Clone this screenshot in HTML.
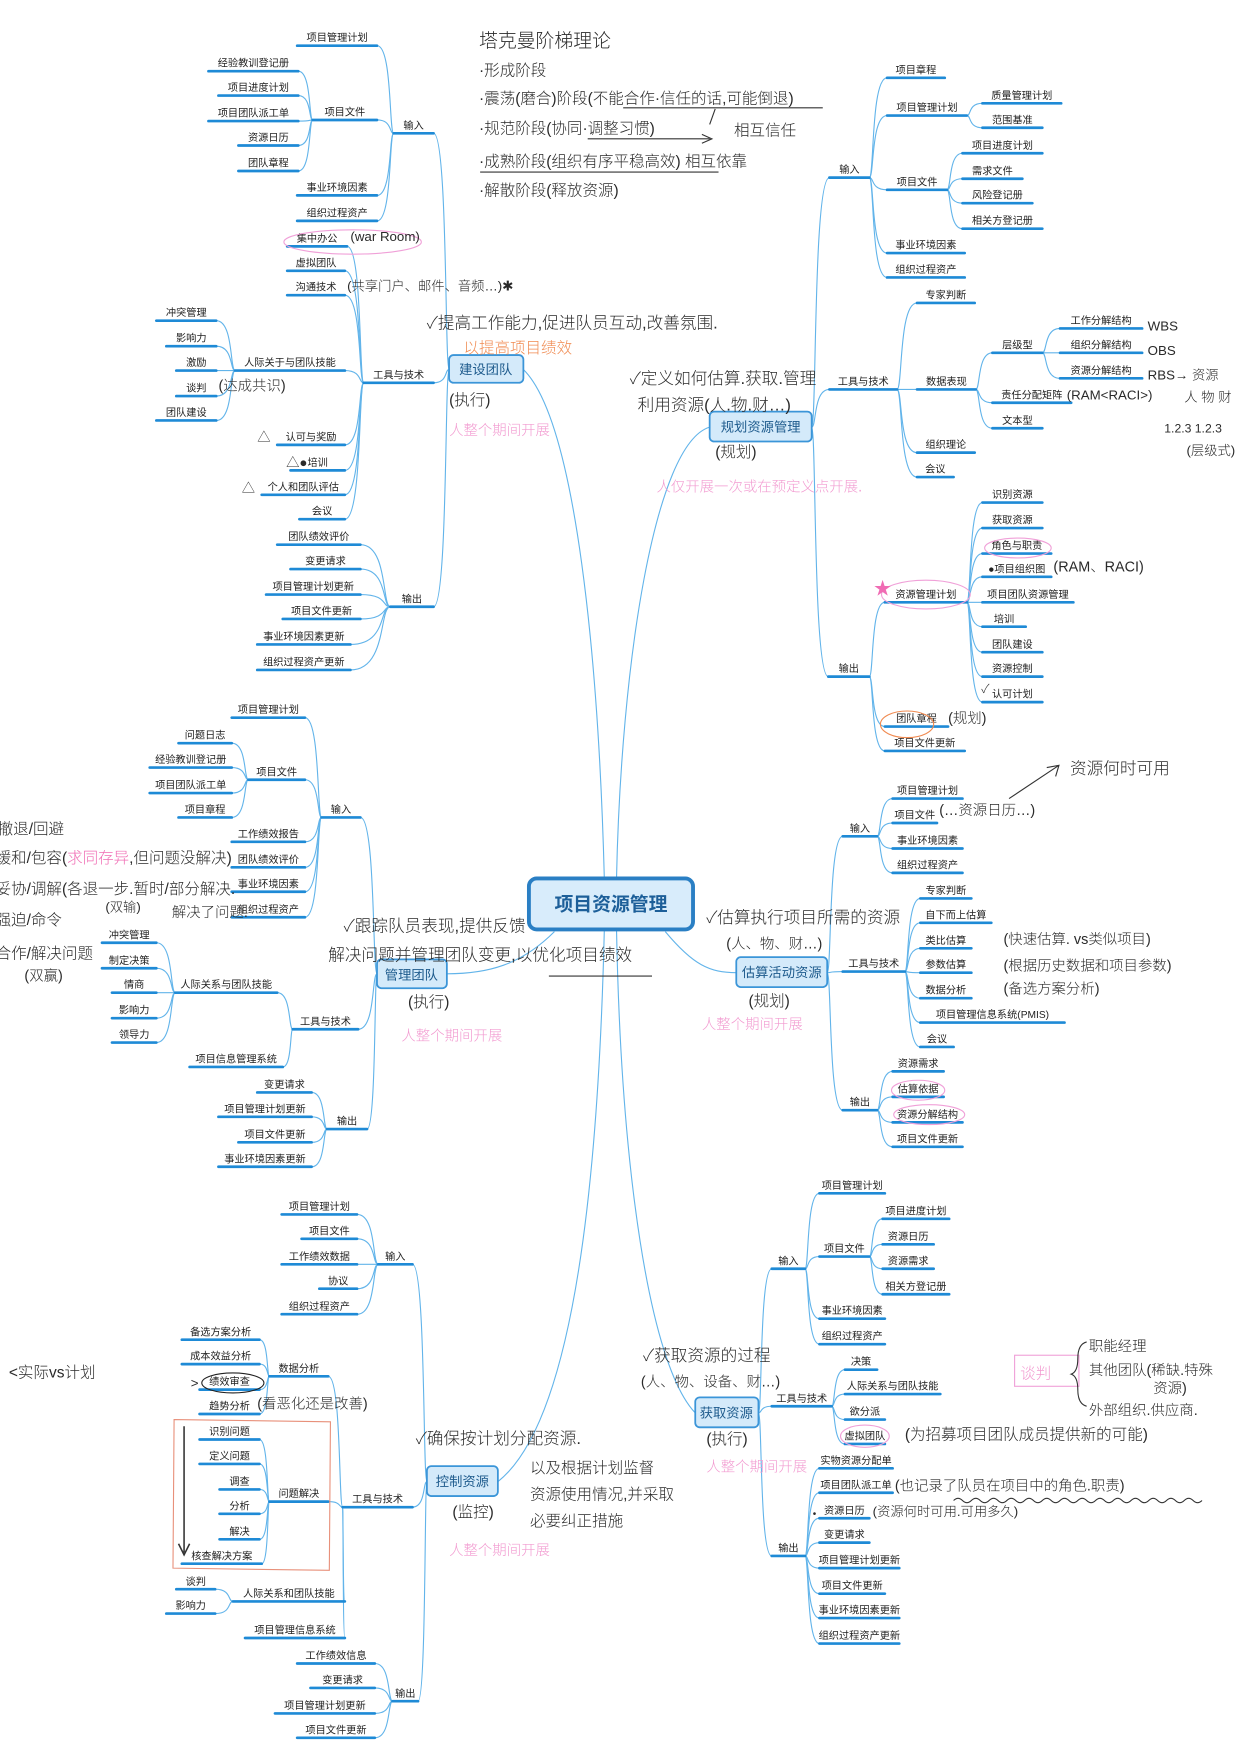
<!DOCTYPE html>
<html><head><meta charset="utf-8">
<style>
html,body{margin:0;padding:0;background:#fff;}
svg{display:block;}
text{font-family:"Liberation Sans","Noto Sans CJK SC",sans-serif;}
.n{font-size:9.2px;fill:#222;}
.hw{font-family:"Liberation Sans","Noto Sans CJK SC",sans-serif;font-size:14px;fill:#2a2a2a;font-weight:300;}
.pk{font-family:"Liberation Sans","Noto Sans CJK SC",sans-serif;font-size:13px;fill:#f29ad0;font-weight:300;}
</style></head>
<body>
<svg id="s" xmlns="http://www.w3.org/2000/svg" width="1253" height="1748" viewBox="0 0 1130 1576">
<rect x="0" y="0" width="1130" height="1576" fill="#fff"/>
<g id="conn" fill="none" stroke="#62b4ea" stroke-width="1"></g>
<g id="ul" stroke="#1e8ad6" stroke-width="2.4" stroke-linecap="round"></g>
<g id="tx"></g>
<g stroke="#3b95d8" stroke-width="1.6" fill="#d4eafa">
<rect x="405" y="320" width="67" height="25" rx="4"/>
<rect x="640" y="371" width="92" height="27" rx="4"/>
<rect x="340" y="865" width="63" height="26" rx="4"/>
<rect x="664" y="863" width="82" height="27" rx="4"/>
<rect x="385" y="1322" width="64" height="27" rx="4"/>
<rect x="627" y="1260" width="57" height="27" rx="4"/>
</g>
<g font-size="12" fill="#1d5a8c" text-anchor="middle">
<text x="438" y="337">建设团队</text>
<text x="686" y="389">规划资源管理</text>
<text x="371" y="883">管理团队</text>
<text x="705" y="881">估算活动资源</text>
<text x="417" y="1340">控制资源</text>
<text x="655" y="1278">获取资源</text>
</g>
<rect x="477" y="792" width="148" height="46" rx="7" fill="#d8ecfb" stroke="#2a7fc4" stroke-width="3.5"/>
<text x="551" y="821" text-anchor="middle" font-size="17" font-weight="bold" fill="#1d5f99">项目资源管理</text>

<g fill="none" stroke-width="1">
<ellipse cx="318" cy="218" rx="62" ry="11" stroke="#f0a0d8"/>
<ellipse cx="918" cy="494" rx="30" ry="9" stroke="#f0a0d8"/>
<ellipse cx="835" cy="536" rx="40" ry="13" stroke="#f0a0d8"/>
<ellipse cx="828" cy="983" rx="24" ry="9" stroke="#f0a0d8"/>
<ellipse cx="838" cy="1005" rx="32" ry="9" stroke="#f0a0d8"/>
<ellipse cx="780" cy="1295" rx="22" ry="10" stroke="#f0a0d8"/>
<ellipse cx="818" cy="653" rx="24" ry="12" stroke="#f08a50"/>
<ellipse cx="210" cy="1247" rx="28" ry="9" stroke="#222"/>
<rect x="915" y="1222" width="58" height="28" stroke="#f0a0d8"/>
<path d="M157,1280 L298,1282 L297,1416 L156,1414 Z" stroke="#e8907a"/>
<path d="M166,1286 L166,1400 M161,1392 L166,1402 L171,1392" stroke="#333" stroke-width="1.4"/>
<path d="M860,1353 q4,-4 8,0 q4,4 8,0 q4,-4 8,0 q4,4 8,0 q4,-4 8,0 q4,4 8,0 q4,-4 8,0 q4,4 8,0 q4,-4 8,0 q4,4 8,0 q4,-4 8,0 q4,4 8,0 q4,-4 8,0 q4,4 8,0 q4,-4 8,0 q4,4 8,0 q4,-4 8,0 q4,4 8,0 q4,-4 8,0 q4,4 8,0 q4,-4 8,0 q4,4 8,0 q4,-4 8,0 q4,4 8,0 q4,-4 8,0 q4,4 8,0 q4,-4 8,0 q4,4 8,0" stroke="#333"/>
<path d="M562,97 L742,97 M530,125 L640,125 M633,121 L642,125 L633,129 M645,98 L640,112 M433,155 L648,155 M495,880 L588,880 M910,720 L955,690 M944,692 L955,690 L952,700" stroke="#333"/>
<path d="M980,1210 q-8,2 -8,15 q0,12 -6,14 q6,2 6,14 q0,13 8,15" stroke="#333"/>
</g>
<text x="788" y="536" font-size="16" fill="#f06cb4">★</text>

<g class="hw">
<text x="432" y="42" font-size="17">塔克曼阶梯理论</text>
<text x="432" y="68">·形成阶段</text>
<text x="432" y="93">·震荡(磨合)阶段(不能合作·信任的话,可能倒退)</text>
<text x="432" y="120">·规范阶段(协同·调整习惯)</text>
<text x="662" y="122">相互信任</text>
<text x="432" y="150">·成熟阶段(组织有序平稳高效) 相互依靠</text>
<text x="432" y="176">·解散阶段(释放资源)</text>
<text x="313" y="262" font-size="12">(共享门户、邮件、音频…)✱</text>
<text x="316" y="217" font-size="12">(war Room)</text>
<text x="197" y="352" font-size="13">(达成共识)</text>
<text x="385" y="296" font-size="15">✓提高工作能力,促进队员互动,改善氛围.</text>
<text x="418" y="318" font-size="14" fill="#f08a50">以提高项目绩效</text>
<text x="405" y="365">(执行)</text>
<text x="232" y="398" font-size="12">△</text>
<text x="258" y="421" font-size="12">△●</text>
<text x="218" y="444" font-size="12">△</text>
<text x="568" y="346" font-size="15">✓定义如何估算.获取.管理</text>
<text x="575" y="370" font-size="15">利用资源(人.物.财…)</text>
<text x="645" y="412">(规划)</text>
<text x="1035" y="298" font-size="12">WBS</text>
<text x="1035" y="320" font-size="12">OBS</text>
<text x="1035" y="342" font-size="12">RBS→ 资源</text>
<text x="1068" y="362" font-size="12">人 物 财</text>
<text x="1050" y="390" font-size="11">1.2.3  1.2.3</text>
<text x="1070" y="410" font-size="12">(层级式)</text>
<text x="962" y="360" font-size="12">(RAM&lt;RACI&gt;)</text>
<text x="950" y="515" font-size="13">(RAM、RACI)</text>
<text x="885" y="625" font-size="11">✓</text>
<text x="855" y="652" font-size="13">(规划)</text>
<text x="965" y="698" font-size="15">资源何时可用</text>
<text x="847" y="735" font-size="13">(…资源日历…)</text>
<text x="637" y="832" font-size="15">✓估算执行项目所需的资源</text>
<text x="655" y="855" font-size="13">(人、物、财…)</text>
<text x="675" y="907">(规划)</text>
<text x="905" y="851" font-size="13">(快速估算. vs类似项目)</text>
<text x="905" y="875" font-size="13">(根据历史数据和项目参数)</text>
<text x="905" y="896" font-size="13">(备选方案分析)</text>
<text x="-6" y="752">.撤退/回避</text>
<text x="-4" y="778">缓和/包容(<tspan fill="#f06cb4">求同存异</tspan>,但问题没解决)</text>
<text x="-4" y="806">妥协/调解(各退一步.暂时/部分解决.</text>
<text x="95" y="822" font-size="12">(双输)</text>
<text x="155" y="827" font-size="13">解决了问题.</text>
<text x="-4" y="834">强迫/命令</text>
<text x="-4" y="864">合作/解决问题</text>
<text x="22" y="884" font-size="13">(双赢)</text>
<text x="310" y="840" font-size="15">✓跟踪队员表现,提供反馈</text>
<text x="296" y="866" font-size="15">解决问题并管理团队变更,以优化项目绩效</text>
<text x="368" y="908">(执行)</text>
<text x="8" y="1242">&lt;实际vs计划</text>
<text x="172" y="1251" font-size="12">&gt;</text>
<text x="232" y="1270" font-size="13">(看恶化还是改善)</text>
<text x="375" y="1302" font-size="15">✓确保按计划分配资源.</text>
<text x="478" y="1328">以及根据计划监督</text>
<text x="478" y="1352">资源使用情况,并采取</text>
<text x="478" y="1376">必要纠正措施</text>
<text x="408" y="1368">(监控)</text>
<text x="580" y="1227" font-size="15">✓获取资源的过程</text>
<text x="578" y="1250" font-size="13">(人、物、设备、财…)</text>
<text x="637" y="1302">(执行)</text>
<text x="920" y="1243" fill="#f29ad0">谈判</text>
<text x="982" y="1218" font-size="13">职能经理</text>
<text x="982" y="1240" font-size="13">其他团队(稀缺.特殊</text>
<text x="1040" y="1256" font-size="13">资源)</text>
<text x="982" y="1276" font-size="13">外部组织.供应商.</text>
<text x="816" y="1298" font-size="14">(为招募项目团队成员提供新的可能)</text>
<text x="807" y="1344" font-size="13">(也记录了队员在项目中的角色.职责)</text>
<text x="787" y="1367" font-size="12">(资源何时可用.可用多久)</text>
<text x="733" y="1368" font-size="9">•</text>
</g>
<g class="pk">
<text x="405" y="392">人整个期间开展</text>
<text x="592" y="443">人仅开展一次或在预定义点开展.</text>
<text x="633" y="928">人整个期间开展</text>
<text x="362" y="938">人整个期间开展</text>
<text x="405" y="1402">人整个期间开展</text>
<text x="637" y="1327">人整个期间开展</text>
</g>
</svg>
<script>
(function(){
var NS="http://www.w3.org/2000/svg";
var conn=document.getElementById('conn'),ul=document.getElementById('ul'),tx=document.getElementById('tx');
function el(p,t,a){var e=document.createElementNS(NS,t);for(var k in a)e.setAttribute(k,a[k]);p.appendChild(e);return e;}
function curve(px,py,cx,cy){var dx=cx-px;
 el(conn,'path',{d:'M'+px+','+py+' C'+(px+dx*0.28)+','+py+' '+(px+dx*0.08)+','+cy+' '+cx+','+cy});}
function tree(side,ax,ay,nodes){
 nodes.forEach(function(n){
  var x1=n[1],x2=n[2],y=n[3];
  el(ul,'line',{x1:x1,y1:y,x2:x2,y2:y});
  var t=el(tx,'text',{x:(x1+x2)/2,y:y-4,'class':'n','text-anchor':'middle'});t.textContent=n[0];
  if(side=='L'){curve(ax,ay,x2,y);}else{curve(ax,ay,x1,y);}
  if(n[4]){tree(side,side=='L'?x1:x2,y,n[4]);}
 });
}
var A=[
 ['输入',355,391,120,[
   ['项目管理计划',268,340,41],
   ['项目文件',282,340,108,[['经验教训登记册',188,269,64],['项目进度计划',197,269,86],['项目团队派工单',188,269,109],['资源日历',215,269,131],['团队章程',215,269,154]]],
   ['事业环境因素',268,340,176],['组织过程资产',268,340,199]]],
 ['工具与技术',328,391,345,[
   ['集中办公',259,313,222],['虚拟团队',259,311,244],['沟通技术',259,311,266],
   ['人际关于与团队技能',212,311,334,[['冲突管理',141,195,289],['影响力',150,195,312],['激励',159,195,334],['谈判',159,195,357],['团队建设',141,195,379]]],
   ['认可与奖励',250,311,401],['培训',262,311,424],['个人和团队评估',236,311,446],['会议',270,311,468]]],
 ['输出',352,391,547,[['团队绩效评价',250,325,491],['变更请求',262,325,513],['项目管理计划更新',240,325,536],['项目文件更新',255,325,558],['事业环境因素更新',232,316,581],['组织过程资产更新',232,316,604]]]
];
var B=[
 ['输入',748,784,160,[['项目章程',800,852,70],['项目管理计划',800,872,104,[['质量管理计划',886,957,93],['范围基准',886,940,115]]],['项目文件',800,854,171,[['项目进度计划',868,940,138],['需求文件',868,922,161],['风险登记册',868,931,183],['相关方登记册',868,940,206]]],['事业环境因素',800,870,228],['组织过程资产',800,870,250]]],
 ['工具与技术',748,809,351,[['专家判断',827,879,273],['数据表现',827,880,351,[['层级型',895,940,318,[['工作分解结构',956,1030,296],['组织分解结构',956,1030,318],['资源分解结构',956,1030,341]]],['责任分配矩阵',895,966,363],['文本型',895,940,386]]],['组织理论',827,879,408],['会议',827,860,430]]],
 ['输出',747,784,610,[['资源管理计划',798,872,543,[['识别资源',886,940,453],['获取资源',886,940,476],['角色与职责',886,948,499],['●项目组织图',886,948,520],['项目团队资源管理',886,968,543],['培训',886,925,565],['团队建设',886,940,588],['资源控制',886,940,610],['认可计划',886,940,633]]],['团队章程',798,855,655],['项目文件更新',798,870,677]]]
];
var C=[
 ['输入',760,791,754,[['项目管理计划',805,868,720],['项目文件',805,845,742],['事业环境因素',805,868,765],['组织过程资产',805,868,787]]],
 ['工具与技术',760,816,876,[['专家判断',830,876,810],['自下而上估算',830,894,832],['类比估算',830,876,855],['参数估算',830,876,877],['数据分析',830,876,900],['项目管理信息系统(PMIS)',830,960,922],['会议',830,860,944]]],
 ['输出',760,791,1001,[['资源需求',805,851,966],['估算依据',805,851,989],['资源分解结构',805,868,1012],['项目文件更新',805,868,1034]]]
];
var D=[
 ['输入',696,726,1144,[['项目管理计划',739,798,1076],['项目文件',739,784,1133,[['项目进度计划',796,856,1099],['资源日历',796,842,1122],['资源需求',796,842,1144],['相关方登记册',796,856,1167]]],['事业环境因素',739,798,1189],['组织过程资产',739,798,1212]]],
 ['工具与技术',696,750,1268,[['决策',762,791,1235],['人际关系与团队技能',762,848,1257],['欲分派',762,798,1280],['虚拟团队',762,798,1302]]],
 ['输出',696,726,1403,[['实物资源分配单',739,805,1324],['项目团队派工单',739,805,1346],['资源日历',739,784,1369],['变更请求',739,784,1391],['项目管理计划更新',739,811,1414],['项目文件更新',739,798,1437],['事业环境因素更新',739,811,1459],['组织过程资产更新',739,811,1482]]]
];
var E=[
 ['输入',341,372,1140,[['项目管理计划',254,322,1095],['项目文件',272,322,1117],['工作绩效数据',254,322,1140],['协议',288,322,1162],['组织过程资产',254,322,1185]]],
 ['工具与技术',309,372,1359,[['数据分析',243,296,1241,[['备选方案分析',164,234,1208],['成本效益分析',164,234,1230],['绩效审查',180,234,1253],['趋势分析',180,234,1275]]],['问题解决',243,296,1354,[['识别问题',180,234,1298],['定义问题',180,234,1320],['调查',198,234,1343],['分析',198,234,1365],['解决',198,234,1388],['核查解决方案',164,236,1410]]],['人际关系和团队技能',210,311,1444,[['谈判',159,194,1433],['影响力',150,194,1455]]],['项目管理信息系统',221,311,1477]]],
 ['输出',354,377,1534,[['工作绩效信息',268,338,1500],['变更请求',280,338,1522],['项目管理计划更新',248,338,1545],['项目文件更新',268,338,1567]]]
];
var F=[
 ['输入',290,325,737,[['项目管理计划',209,275,647],['项目文件',224,275,703,[['问题日志',161,209,670],['经验教训登记册',135,209,692],['项目团队派工单',135,209,715],['项目章程',161,209,737]]],['工作绩效报告',209,275,759],['团队绩效评价',209,275,782],['事业环境因素',209,275,804],['组织过程资产',209,275,827]]],
 ['工具与技术',264,323,928,[['人际关系与团队技能',158,250,895,[['冲突管理',92,141,850],['制定决策',92,141,873],['情商',101,141,895],['影响力',101,141,918],['领导力',101,141,940]]],['项目信息管理系统',171,255,962]]],
 ['输出',295,331,1018,[['变更请求',232,281,985],['项目管理计划更新',197,281,1007],['项目文件更新',215,281,1030],['事业环境因素更新',197,281,1052]]]
];
tree('L',405,333,A);
tree('R',732,385,B);
tree('R',746,877,C);
tree('R',684,1274,D);
tree('L',385,1336,E);
tree('L',340,878,F);
function p(d){el(conn,'path',{d:d});}
p('M545,792 C540,600 520,380 472,333');
p('M556,792 C560,600 590,400 640,385');
p('M545,838 C540,1050 520,1280 449,1336');
p('M556,838 C560,1050 585,1230 627,1274');
p('M500,840 C470,870 440,878 403,878');
p('M600,840 C625,870 640,877 664,877');
})();
</script>
</body></html>
